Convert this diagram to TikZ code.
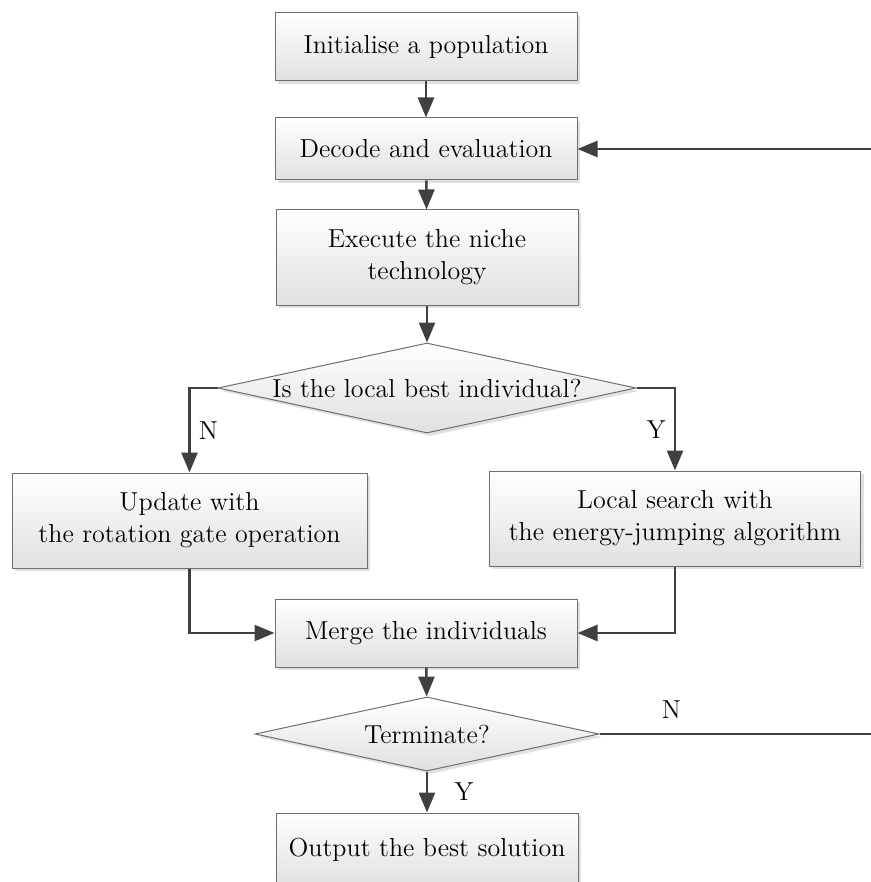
\documentclass[tikz,border=0pt]{standalone}
\usepackage{tikz}
\usetikzlibrary{shapes.geometric,arrows.meta,shadows}
\definecolor{linegray}{HTML}{404040}
\definecolor{edgegray}{HTML}{6E6E6E}
\tikzset{
  procbox/.style  = {shape=rectangle, draw=edgegray, line width=0.5pt,
                     top color=white, bottom color=black!12,
                     drop shadow={shadow xshift=1.5pt, shadow yshift=-1.5pt, fill=black!12, opacity=1},
                     align=center, inner sep=0pt, text=black,
                     font=\fontsize{13}{16}\selectfont},
  decision/.style = {procbox, shape=diamond},
  flow/.style     = {draw=linegray, line width=1.3pt,
                     -{Triangle[length=10pt,width=8pt]}},
  lbl/.style      = {font=\fontsize{13}{16}\selectfont, inner sep=2pt}
}

\begin{document}
\begin{tikzpicture}[x=0.5pt, y=-0.5pt]
    \useasboundingbox (0,0) rectangle (871,882);
    \clip (0,0) rectangle (871,882);
    % main column
    \node [procbox, minimum width=151pt, minimum height=34pt] (init) at (426,47)
      {Initialise a population};
    \node [procbox, minimum width=151pt, minimum height=31pt] (decode) at (426,149)
      {Decode and evaluation};
    \node [procbox, minimum width=151pt, minimum height=47.5pt] (niche) at (427,257.5)
      {Execute the niche\\technology};
    \node [decision, aspect=4.64, minimum width=209pt, minimum height=45pt] (best) at (427,388)
      {Is the local best individual?};
    % two branches
    \node [procbox, minimum width=177.5pt, minimum height=47.5pt] (update) at (189.5,520.5)
      {Update with\\the rotation gate operation};
    \node [procbox, minimum width=185.5pt, minimum height=47.5pt] (local) at (675,518.5)
      {Local search with\\the energy-jumping algorithm};
    \node [procbox, minimum width=151pt, minimum height=34pt] (merge) at (426,633)
      {Merge the individuals};
    \node [decision, aspect=4.65, minimum width=172pt, minimum height=37pt] (term) at (427,734)
      {Terminate?};
    \node [procbox, minimum width=151pt, minimum height=37pt] (output) at (427,850)
      {Output the best solution};

    \draw [flow] (init) -- (decode);
    \draw [flow] (decode) -- (niche);
    \draw [flow] (niche) -- (best);
    \draw [flow] (best.west) -| node [lbl, pos=0.75, right=2pt] {N} (update.north);
    \draw [flow] (best.east) -| node [lbl, pos=0.75, left=2pt] {Y} (local.north);
    \draw [flow] (update.south) |- (merge.west);
    \draw [flow] (local.south) |- (merge.east);
    \draw [flow] (merge) -- (term);
    \draw [flow] (term) -- node [lbl, right=11pt] {Y} (output);
    % loop back
    \draw [flow] (term.east) -- node [lbl, pos=0.26, above=5pt] {N} (876,734)
      |- (decode.east);
\end{tikzpicture}
\end{document}
